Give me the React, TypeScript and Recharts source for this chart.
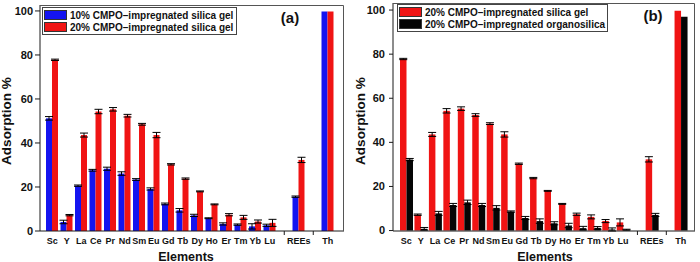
import React from "react"
import { BarChart, Bar, XAxis, YAxis, ErrorBar, Legend } from "recharts"

// element order on the x axis; "" entries are the spacers before REEs and Th
const elements = ["Sc", "Y", "La", "Ce", "Pr", "Nd", "Sm", "Eu", "Gd", "Tb", "Dy", "Ho", "Er", "Tm", "Yb", "Lu", "", "REEs", "", "Th"]

// adsorption % for each sorbent
const silica10 = [51.2, 4.1, 20.6, 27.6, 28.3, 26.1, 23.4, 19.1, 12.3, 9.4, 7.1, 5.8, 3.2, 2.9, 2.1, 2.6, null, 15.6, null, 99.7]
const silica10Err = [0.8, 0.8, 0.3, 0.4, 0.7, 0.8, 0.4, 0.5, 0.4, 0.8, 0.5, 0.2, 0.5, 0.3, 1.2, 0.5, 0, 0.3, 0, 0]
const silica20 = [77.8, 7.2, 43.6, 54.3, 55.3, 52.4, 48.5, 43.6, 30.3, 23.8, 18.0, 12.1, 7.4, 6.2, 4.3, 3.7, null, 32.3, null, 99.7]
const silica20Err = [0.3, 0.3, 0.9, 1.0, 0.8, 0.6, 0.4, 1.2, 0.3, 0.3, 0.2, 0.2, 0.5, 0.9, 0.7, 1.6, 0, 1.2, 0, 0]
const organo20 = [32.2, 0.8, 7.8, 11.6, 12.8, 11.6, 10.3, 8.6, 5.7, 4.3, 3.3, 2.3, 1.1, 1.2, 0.5, 0.4, null, 7.1, null, 97.0]
const organo20Err = [0.5, 0.6, 0.9, 0.7, 1.0, 0.7, 1.0, 0.3, 0.7, 1.0, 0.7, 1.0, 0.8, 0.6, 0.7, 0.2, 0, 0.7, 0, 0]

const yTicks = [0, 20, 40, 60, 80, 100]

const labelNames = {
  s10: "10% CMPO\u2013impregnated silica gel",
  s20: "20% CMPO\u2013impregnated silica gel",
  o20: "20% CMPO\u2013impregnated organosilica",
}

const BLUE = "#1414f0"
const RED = "#f01414"
const BLACK = "#050505"
const INK = "#1a1a1a"
const FONT = "'Liberation Sans', Arial, sans-serif"

const rows = elements.map((name, i) => ({
  name,
  s10: silica10[i],
  s10e: silica10Err[i],
  s20: silica20[i],
  s20e: silica20Err[i],
  o20: organo20[i],
  o20e: organo20Err[i],
}))

const X_TICK_SIZE = 4
const X_TICK_MARGIN = 3

function ElementTick({ x, y, payload }: any) {
  const axisY = y - X_TICK_SIZE - X_TICK_MARGIN
  if (!payload.value) {
    return <line x1={x} x2={x} y1={axisY} y2={axisY + X_TICK_SIZE} stroke={INK} strokeWidth={1} />
  }
  return (
    <text x={x} y={y} dy="0.71em" textAnchor="middle" fontFamily={FONT} fontWeight="bold" fontSize={9} fill="#111">
      {payload.value}
    </text>
  )
}

type Series = { key: "s10" | "s20" | "o20"; color: string }

function LegendBox({ series, width }: { series: Series[]; width: number }) {
  return (
    <div style={{ width, border: "1px solid #444", background: "#fff", padding: 1, boxSizing: "border-box" }}>
      {series.map((s) => (
        <div key={s.key} style={{ display: "flex", alignItems: "center", height: 12 }}>
          <span style={{ width: 23, height: 10, background: s.color, border: "0.5px solid #333", boxSizing: "border-box" }} />
          <span style={{ marginLeft: 3, fontFamily: FONT, fontWeight: "bold", fontSize: 10, color: "#111", whiteSpace: "nowrap" }}>
            {labelNames[s.key]}
          </span>
        </div>
      ))}
    </div>
  )
}

type PanelProps = {
  left: number
  tag: string
  series: Series[]
  top: number
  right: number
  yWidth: number
  yMax: number
  yTickSize: number
  yTickMargin: number
  xPad: { left: number; right: number }
  barSize: number
  legendPos: { left: number; top: number; width: number }
  tagPos: [number, number]
  yTitleX: number
  xTitleX: number
}

function Panel(p: PanelProps) {
  const W = 350
  const H = 262
  const plotRight = W - p.right
  const plotBottom = H - 31
  return (
    <div style={{ position: "absolute", left: p.left, top: 0, width: W, height: H }}>
      <BarChart width={W} height={H} data={rows} margin={{ top: p.top, right: p.right, bottom: 0, left: 0 }} barGap={0} barCategoryGap={1}>
        <XAxis
          dataKey="name"
          height={31}
          interval={0}
          padding={p.xPad}
          tickLine={false}
          tickSize={X_TICK_SIZE}
          tickMargin={X_TICK_MARGIN}
          tick={<ElementTick />}
          axisLine={{ stroke: INK }}
        />
        <YAxis
          width={p.yWidth}
          domain={[0, p.yMax]}
          ticks={yTicks}
          tickSize={p.yTickSize}
          tickMargin={p.yTickMargin}
          tickLine={{ stroke: INK }}
          axisLine={{ stroke: INK }}
          tick={{ fontFamily: FONT, fontWeight: "bold", fontSize: 11, fill: "#111" }}
        />
        <Legend
          layout="vertical"
          align="center"
          verticalAlign="middle"
          wrapperStyle={{ left: p.legendPos.left, top: p.legendPos.top, width: "auto" }}
          content={() => <LegendBox series={p.series} width={p.legendPos.width} />}
        />
        {p.series.map((s) => (
          <Bar key={s.key} dataKey={s.key} name={labelNames[s.key]} fill={s.color} barSize={p.barSize} isAnimationActive={false}>
            <ErrorBar dataKey={s.key + "e"} width={4} stroke="#000" strokeWidth={1} />
          </Bar>
        ))}
      </BarChart>
      <svg width={W} height={H} style={{ position: "absolute", left: 0, top: 0, pointerEvents: "none" }}>
        {/* top and right edges of the plot frame */}
        <polyline
          points={`${p.yWidth},${p.top + 0.5} ${plotRight - 0.5},${p.top + 0.5} ${plotRight - 0.5},${plotBottom}`}
          fill="none"
          stroke="#555"
          strokeWidth={1}
        />
        <text x={p.tagPos[0]} y={p.tagPos[1]} textAnchor="middle" fontFamily={FONT} fontWeight="bold" fontSize={15} fill="#111">
          {p.tag}
        </text>
        <text
          x={p.yTitleX}
          y={121}
          transform={`rotate(-90 ${p.yTitleX} 121)`}
          textAnchor="middle"
          fontFamily={FONT}
          fontWeight="bold"
          fontSize={13.5}
          fill="#111"
        >
          Adsorption %
        </text>
        <text x={p.xTitleX} y={260.5} textAnchor="middle" fontFamily={FONT} fontWeight="bold" fontSize={12.5} fill="#111">
          Elements
        </text>
      </svg>
    </div>
  )
}

export default function App() {
  return (
    <div style={{ position: "absolute", left: 0, top: 0, width: 700, height: 262, background: "#fff" }}>
      <Panel
        left={0}
        tag="(a)"
        series={[
          { key: "s10", color: BLUE },
          { key: "s20", color: RED },
        ]}
        top={5}
        right={6}
        yWidth={40}
        yMax={102.7}
        yTickSize={5}
        yTickMargin={2}
        xPad={{ left: 5, right: 9 }}
        barSize={6}
        legendPos={{ left: 42, top: 7, width: 195 }}
        tagPos={[290, 22.5]}
        yTitleX={10.5}
        xTitleX={186}
      />
      <Panel
        left={350}
        tag="(b)"
        series={[
          { key: "s20", color: RED },
          { key: "o20", color: BLACK },
        ]}
        top={3}
        right={5}
        yWidth={43}
        yMax={103.2}
        yTickSize={4}
        yTickMargin={4}
        xPad={{ left: 6, right: 7 }}
        barSize={6.5}
        legendPos={{ left: 47, top: 4, width: 211 }}
        tagPos={[303, 20.5]}
        yTitleX={14.5}
        xTitleX={195}
      />
    </div>
  )
}
